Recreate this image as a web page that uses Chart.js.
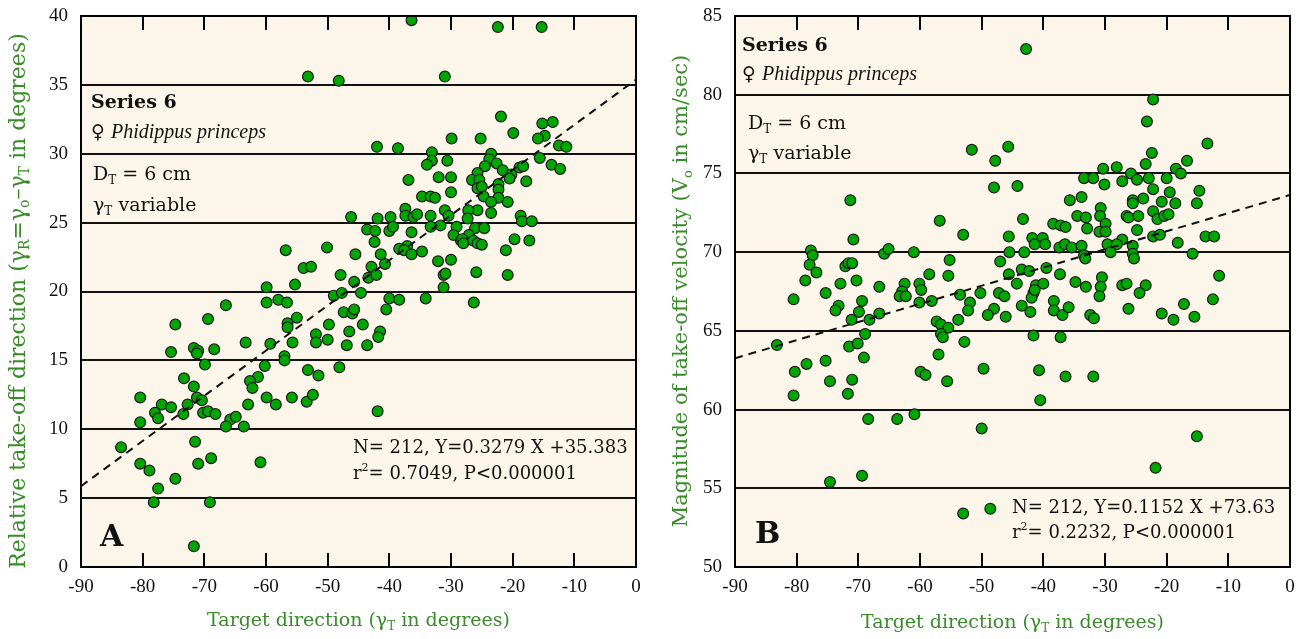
<!DOCTYPE html>
<html>
<head>
<meta charset="utf-8">
<script src="https://cdn.jsdelivr.net/npm/chart.js@4.4.1/dist/chart.umd.min.js"></script>
<style>
html, body { margin: 0; padding: 0; background: #fff; }
#wrap { position: relative; width: 1309px; height: 639px; }
#ca { position: absolute; left: 0; top: 0; }
#cb { position: absolute; left: 654px; top: 0; }
</style>
</head>
<body>
<div id="wrap">
  <canvas id="ca" width="654" height="639"></canvas>
  <canvas id="cb" width="655" height="639"></canvas>
</div>
<script>
// ---- data, panel A (relative take-off direction vs target direction) ----
const aX = [-59.9,-59.9,-66.5,-69.4,-74.7,-63.3,-59.3,-71.7,-71.0,-71.2,-68.4,-75.4,-69.9,-60.2,-73.3,-61.3,-62.6,-62.2,-71.7,-80.4,
  -71.2,-70.4,-59.9,-76.9,-75.4,-72.7,-62.9,-78.0,-77.5,-73.4,-70.2,-69.4,-68.2,-65.8,-64.9,-66.5,-63.6,-80.4,-83.5,-71.5,
  -68.9,-71.0,-60.9,-80.4,-78.9,-74.7,-77.5,-78.2,-69.1,-71.7,
  -37.4,-37.4,-36.1,-35.5,-33.3,-31.0,-30.4,-46.2,-41.9,-39.8,-43.6,-42.3,-40.0,-39.4,-36.4,-33.3,-31.7,-29.1,-29.6,-28.4,
  -42.4,-56.8,-50.1,-45.5,-41.4,-38.4,-37.1,-37.6,-36.4,-34.7,-32.1,-30.0,-40.7,-42.9,-53.9,-52.7,-47.9,-43.4,-42.1,-31.2,
  -30.9,-45.7,-55.3,-31.2,-49.0,-47.7,-44.6,-40.0,-38.4,-34.1,-58.0,-56.6,-40.5,-47.4,-46.0,-45.7,-55.0,-56.5,-56.5,-49.8,
  -44.3,-46.5,-41.5,-41.8,-51.9,-51.9,-50.0,-55.7,-46.9,-43.6,-57.0,-57.0,-53.2,-51.5,-48.1,-58.4,-55.8,-53.4,-52.4,-41.9,
  -36.4,-53.2,-48.2,-31.0,-29.9,-42.0,-38.6,-33.1,-33.1,-33.9,-30.6,-36.9,-32.0,-30.0,-30.0,-34.7,-33.3,-32.6,
  -22.4,-15.3,-21.9,-15.2,-13.5,-19.9,-14.8,-15.9,-12.5,-11.3,-25.2,-23.5,-23.8,-22.6,-24.5,-21.6,-18.9,-18.3,-15.6,-13.7,
  -12.3,-25.7,-26.6,-25.4,-20.2,-20.5,-17.8,-25.7,-25.0,-22.3,-22.3,-24.7,-22.3,-23.5,-20.8,-25.7,-23.5,-27.2,-27.3,-18.7,
  -18.5,-16.9,-26.1,-24.6,-27.1,-28.2,-28.0,-26.4,-25.7,-25.0,-19.7,-17.3,-21.1,-25.9,-20.8,-26.3];
const aY = [20.3,19.2,19.0,18.0,17.6,16.3,16.2,15.9,15.7,15.5,15.8,15.6,14.7,14.6,13.7,13.8,13.5,13.0,13.1,12.3,
  12.3,12.1,12.3,11.8,11.6,11.8,11.8,11.2,10.8,11.1,11.2,11.3,11.1,10.7,10.9,10.2,10.2,10.5,8.7,9.1,
  7.9,7.5,7.6,7.5,7.0,6.4,5.7,4.7,4.7,1.5,
  26.0,25.5,25.4,25.6,25.5,25.9,25.5,25.4,25.3,25.4,24.5,24.4,24.4,24.7,24.3,24.7,24.8,24.7,24.1,23.7,
  23.6,23.0,23.2,22.7,22.7,23.1,23.3,23.0,22.7,22.9,22.2,22.3,22.0,21.8,21.7,21.8,21.2,21.0,21.2,21.2,
  21.3,20.7,20.5,20.3,19.7,19.9,19.9,19.5,19.4,19.5,19.4,19.2,18.7,18.5,18.4,18.7,18.1,17.7,17.4,17.6,
  17.6,17.1,17.1,16.7,16.9,16.3,16.5,16.3,16.1,16.1,15.3,15.0,14.3,13.9,14.5,11.8,12.3,12.0,12.5,11.3,
  39.7,35.6,35.3,35.6,31.1,30.5,30.4,30.1,29.5,29.2,29.5,28.1,28.3,28.3,27.2,26.9,26.9,26.8,
  39.2,39.2,32.7,32.2,32.3,31.5,31.3,31.1,30.6,30.5,31.1,30.0,29.6,29.3,29.1,28.8,29.0,29.1,29.7,29.2,
  28.9,28.6,28.1,28.1,28.5,28.2,28.0,27.5,27.6,27.8,27.4,26.9,26.8,26.5,26.5,25.9,25.7,25.9,25.3,25.5,
  25.1,25.1,24.6,24.6,24.1,23.8,23.5,23.7,23.5,23.4,23.8,23.7,23.0,21.4,21.2,19.2];
const aFit = [{ x: -90, y: 5.87 }, { x: 0, y: 35.38 }];

// ---- data, panel B (take-off velocity vs target direction) ----
const bX = [-70.8,-77.7,-77.4,-77.9,-76.8,-78.6,-80.5,-75.3,-72.9,-72.1,-71.6,-71.0,-70.3,-65.8,-65.1,-61.0,-58.5,-66.6,-62.5,-62.9,
  -63.3,-62.3,-60.1,-59.8,-60.1,-58.1,-73.2,-73.7,-69.4,-69.9,-71.1,-68.2,-66.6,-68.9,-83.2,-71.5,-70.1,-69.1,-80.3,-78.4,
  -75.3,-74.6,-71.0,-80.5,-71.7,-59.9,-59.1,-68.4,-63.7,-60.9,-69.4,-74.6,-71.3,
  -42.8,-51.6,-45.7,-47.8,-48.0,-44.2,-30.3,-33.4,-31.9,-30.1,-35.7,-33.8,-30.7,-30.8,-56.8,-43.3,-34.5,-33.1,-53.0,-38.4,
  -37.2,-36.4,-32.9,-29.9,-30.9,-29.9,-45.6,-41.8,-40.1,-41.4,-39.7,-37.4,-36.5,-35.4,-33.8,-29.6,-45.5,-43.1,-33.4,-33.2,
  -55.2,-47.0,-55.4,-45.6,-43.5,-42.3,-39.5,-37.3,-44.3,-41.2,-40.0,-34.8,-33.1,-30.5,
  -30.7,-30.9,-41.6,-41.9,-41.4,-50.2,-47.2,-46.3,-53.5,-51.9,-52.2,-48.0,-49.0,-46.1,-43.5,-42.1,-38.3,-38.3,-36.9,-35.9,
  -32.4,-31.8,-53.8,-57.3,-56.6,-55.4,-56.6,-56.3,-52.8,-41.6,-37.2,-57.0,-49.7,-40.7,-36.4,-31.9,-55.6,-40.5,-50.0,-53.0,-48.6,
  -22.2,-23.2,-13.4,-22.4,-23.4,-16.7,-28.1,-18.5,-17.7,-25.8,-27.2,-24.8,-22.9,-20.0,-22.2,-19.5,-14.7,-23.8,-25.5,-25.5,
  -20.8,-18.6,-15.1,-26.5,-26.2,-24.6,-22.2,-21.5,-20.4,-19.7,-24.8,-22.2,-21.1,-13.7,-12.3,-27.2,-28.1,-25.5,-18.2,-29.1,
  -25.5,-25.3,-15.8,-11.5,-27.2,-26.5,-23.4,
  -24.4,-26.2,-20.8,-18.9,-17.2,-15.5,-12.5,-15.1,-21.8];
const bY = [70.8,70.1,69.8,69.2,68.7,68.2,67.0,67.4,68.0,69.1,69.3,69.3,68.2,69.9,70.2,70.0,68.6,67.8,68.0,67.5,
  67.2,67.2,68.0,67.6,66.8,66.9,66.6,66.3,66.9,66.2,65.7,65.7,66.1,64.8,64.1,64.0,64.2,63.3,62.4,62.9,
  63.1,61.8,61.9,60.9,61.0,62.4,62.2,59.4,59.4,59.7,55.8,55.4,73.3,
  82.9,76.5,76.7,75.8,74.1,74.2,75.3,74.7,74.7,74.3,73.3,73.5,72.8,72.3,72.0,72.1,72.3,72.2,71.1,71.8,
  71.7,71.6,71.5,71.8,71.3,71.3,71.0,70.9,70.9,70.5,70.5,70.3,70.5,70.3,70.4,70.5,70.0,70.0,69.8,69.6,
  69.5,69.4,68.5,68.6,68.9,68.8,69.0,68.6,68.0,67.9,68.0,68.1,67.8,68.4,
  67.8,67.2,67.4,67.1,67.6,67.4,67.4,67.2,67.3,66.8,66.3,66.4,66.0,65.9,66.6,66.2,66.9,66.3,66.0,66.5,
  66.0,65.8,65.7,65.6,65.4,65.2,64.8,64.6,64.3,64.7,64.6,63.5,62.6,62.5,62.1,62.1,61.8,60.6,58.8,53.4,53.7,
  79.7,78.3,76.9,76.3,75.6,75.8,75.4,75.3,75.0,75.0,74.5,74.6,74.7,74.7,74.0,73.8,73.9,73.4,73.3,73.1,
  73.2,73.1,73.1,72.3,72.2,72.3,72.6,72.1,72.3,72.4,71.4,71.0,71.1,71.0,71.0,70.8,70.5,70.4,70.6,70.0,
  69.9,69.6,69.9,68.5,67.9,68.0,67.9,
  67.4,66.4,66.1,65.7,66.7,65.9,67.0,58.3,56.3];
const bFit = [{ x: -90, y: 63.26 }, { x: 0, y: 73.63 }];

const xTicks = [-90, -80, -70, -60, -50, -40, -30, -20, -10, 0];

const SERIF = '"DejaVu Serif", "Liberation Serif", serif';
const SERIF_I = '"Liberation Serif", "DejaVu Serif", serif';
const CREAM = '#fcf5e9';
const DOT = '#00a600';
const TITLE_GREEN = '#3a8c2a';

// draws a run of text pieces with sub/superscripts, returns its width
function rich(ctx, x, y, parts, size, measureOnly) {
  let cx = x;
  for (const p of parts) {
    const s = (p.sub || p.sup) ? Math.round(size * 0.62) : (p.i ? size + 1 : size);
    ctx.font = (p.i ? 'italic ' : '') + (p.b ? 'bold ' : '') + s + 'px ' + (p.i ? SERIF_I : SERIF);
    const dy = p.sub ? size * 0.3 : p.sup ? -size * 0.32 : 0;
    if (!measureOnly) ctx.fillText(p.t, cx, y + dy);
    cx += ctx.measureText(p.t).width;
  }
  return cx - x;
}

function decor(spec) {
  return {
    id: 'decor',
    beforeDraw(chart) {
      const { ctx, chartArea: a } = chart;
      ctx.save();
      ctx.fillStyle = CREAM;
      ctx.fillRect(a.left, a.top, a.width, a.height);
      ctx.restore();
    },
    afterDraw(chart) {
      const { ctx, chartArea: a } = chart;
      const xs = chart.scales.x;
      ctx.save();
      // inward ticks top and bottom
      ctx.strokeStyle = '#000';
      ctx.lineWidth = 2;
      ctx.beginPath();
      xTicks.slice(1, -1).forEach(v => {
        const px = Math.round(xs.getPixelForValue(v));
        ctx.moveTo(px, a.bottom); ctx.lineTo(px, a.bottom - 14);
        ctx.moveTo(px, a.top); ctx.lineTo(px, a.top + 14);
      });
      ctx.stroke();
      ctx.strokeRect(a.left, a.top, a.width, a.height);

      // text blocks inside the plot
      ctx.fillStyle = '#111';
      ctx.textBaseline = 'middle';
      ctx.textAlign = 'left';
      spec.notes.forEach(n => rich(ctx, n.x, n.y, n.parts, n.size));

      // axis titles
      ctx.fillStyle = TITLE_GREEN;
      const w = rich(ctx, 0, 0, spec.xTitle, 19, true);
      rich(ctx, (a.left + a.right) / 2 - w / 2, spec.xTitleY, spec.xTitle, 19);
      const h = rich(ctx, 0, 0, spec.yTitle, spec.ySize, true);
      ctx.translate(spec.yTitleX, spec.yTitleMid);
      ctx.rotate(-Math.PI / 2);
      rich(ctx, -h / 2, 0, spec.yTitle, spec.ySize);
      ctx.restore();
    }
  };
}

function noPad(s) { s.paddingTop = 0; s.paddingBottom = 0; s.paddingLeft = 0; s.paddingRight = 0; }

function makeChart(id, xs, ys, fit, yMin, yMax, padRight, spec) {
  const pts = xs.map((x, i) => ({ x, y: ys[i] }));
  return new Chart(document.getElementById(id), {
    type: 'scatter',
    data: {
      datasets: [
        { data: fit, showLine: true, borderColor: '#111', borderWidth: 2, borderDash: [8, 6], pointRadius: 0, fill: false },
        { data: pts, backgroundColor: DOT, borderColor: '#1a1a1a', borderWidth: 1.2, pointRadius: 5.4, pointHoverRadius: 5.4 }
      ]
    },
    options: {
      responsive: false,
      animation: false,
      layout: { padding: { top: 16, right: padRight, left: 0, bottom: 0 } },
      plugins: { legend: { display: false }, tooltip: { enabled: false } },
      scales: {
        x: {
          type: 'linear', min: -90, max: 0,
          afterBuildTicks: s => { s.ticks = xTicks.map(v => ({ value: v })); },
          afterFit: s => { s.height = 72; noPad(s); },
          grid: { display: false, drawTicks: false },
          border: { display: false },
          ticks: { color: '#111', padding: 9, font: { family: SERIF_I, size: 19 }, maxRotation: 0, autoSkip: false }
        },
        y: {
          type: 'linear', min: yMin, max: yMax,
          afterFit: s => { s.width = 81; noPad(s); },
          grid: { color: '#111', lineWidth: 2, drawTicks: false },
          border: { display: false },
          ticks: { color: '#111', stepSize: 5, padding: 13, font: { family: SERIF_I, size: 19 } }
        }
      }
    },
    plugins: [decor(spec)]
  });
}

const T = (t, o) => Object.assign({ t }, o || {});

makeChart('ca', aX, aY, aFit, 0, 40, 18, {
  xTitleY: 621,
  yTitleX: 19, yTitleMid: 301, ySize: 22,
  xTitle: [T('Target direction (γ'), T('T', { sub: 1 }), T(' in degrees)')],
  yTitle: [T('Relative take-off direction (γ'), T('R', { sub: 1 }), T('=γ'), T('o', { sub: 1 }), T('–γ'), T('T', { sub: 1 }), T(' in degrees)')],
  notes: [
    { x: 91, y: 103, size: 19, parts: [T('Series 6', { b: 1 })] },
    { x: 91, y: 133, size: 19, parts: [T('♀ '), T('Phidippus princeps', { i: 1 })] },
    { x: 93, y: 175, size: 19, parts: [T('D'), T('T', { sub: 1 }), T(' = 6 cm')] },
    { x: 93, y: 206, size: 19, parts: [T('γ'), T('T', { sub: 1 }), T(' variable')] },
    { x: 353, y: 448, size: 18, parts: [T('N= 212, Y=0.3279 X +35.383')] },
    { x: 353, y: 474, size: 18, parts: [T('r'), T('2', { sup: 1 }), T('= 0.7049, P<0.000001')] },
    { x: 100, y: 538, size: 30, parts: [T('A', { b: 1 })] }
  ]
});

makeChart('cb', bX, bY, bFit, 50, 85, 19, {
  xTitleY: 623,
  yTitleX: 28, yTitleMid: 291, ySize: 21,
  xTitle: [T('Target direction (γ'), T('T', { sub: 1 }), T(' in degrees)')],
  yTitle: [T('Magnitude of take-off velocity (V'), T('o', { sub: 1 }), T(' in cm/sec)')],
  notes: [
    { x: 88, y: 46, size: 19, parts: [T('Series 6', { b: 1 })] },
    { x: 88, y: 75, size: 19, parts: [T('♀ '), T('Phidippus princeps', { i: 1 })] },
    { x: 94, y: 124, size: 19, parts: [T('D'), T('T', { sub: 1 }), T(' = 6 cm')] },
    { x: 94, y: 154, size: 19, parts: [T('γ'), T('T', { sub: 1 }), T(' variable')] },
    { x: 358, y: 508, size: 18, parts: [T('N= 212, Y=0.1152 X +73.63')] },
    { x: 358, y: 533, size: 18, parts: [T('r'), T('2', { sup: 1 }), T('= 0.2232, P<0.000001')] },
    { x: 101, y: 535, size: 30, parts: [T('B', { b: 1 })] }
  ]
});
</script>
</body>
</html>
